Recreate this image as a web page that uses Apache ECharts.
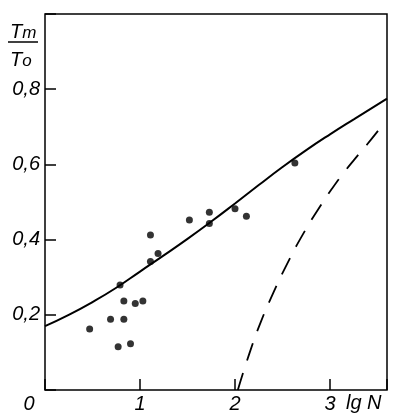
<!DOCTYPE html>
<html>
<head>
<meta charset="utf-8">
<script src="https://cdn.jsdelivr.net/npm/echarts@6/dist/echarts.min.js"></script>
<style>
  html, body { margin: 0; padding: 0; background: #fff; }
  #chart { width: 399px; height: 420px; }
</style>
</head>
<body>
<div id="chart"></div>
<script>
// measured points [lg N, Tm/To]
var points = [
  [0.47, 0.162], [0.69, 0.188], [0.83, 0.188], [0.77, 0.115], [0.90, 0.123],
  [0.83, 0.237], [0.95, 0.230], [1.03, 0.237], [0.79, 0.279], [1.11, 0.412],
  [1.19, 0.363], [1.11, 0.342], [1.52, 0.452], [1.73, 0.473], [1.73, 0.443],
  [2.00, 0.482], [2.12, 0.462], [2.63, 0.604]
];
// solid theory curve
var solidCurve = [
  [0, 0.17], [0.25, 0.2], [0.5, 0.234], [0.75, 0.272], [1.0, 0.315],
  [1.25, 0.358], [1.5, 0.402], [1.75, 0.448], [2.0, 0.496], [2.25, 0.545],
  [2.5, 0.593], [2.75, 0.638], [3.0, 0.68], [3.25, 0.72], [3.6, 0.775]
];
// dashed curve
var dashCurve = [
  [2.03, 0], [2.15, 0.096], [2.27, 0.18], [2.41, 0.262], [2.55, 0.336],
  [2.71, 0.412], [2.9, 0.49], [3.02, 0.535], [3.13, 0.573], [3.26, 0.614],
  [3.39, 0.653], [3.52, 0.694]
];
var xTicks = ['0', '1', '2', '3'];
var yTicks = ['0,2', '0,4', '0,6', '0,8'];

var chart = echarts.init(document.getElementById('chart'));
var font = 'Liberation Sans';

var option = {
  animation: false,
  grid: {
    left: 45, right: 12, top: 14, bottom: 30,
    show: true, borderColor: '#000', borderWidth: 1.5
  },
  xAxis: {
    type: 'value', min: 0, max: 3.6, interval: 1,
    splitLine: { show: false },
    axisLine: { show: false },
    axisTick: { inside: true, length: 11, lineStyle: { color: '#000', width: 1.5 } },
    axisLabel: {
      margin: 4,
      fontFamily: font, fontStyle: 'italic', fontSize: 20, color: '#000',
      formatter: function (v) {
        var s = xTicks[Math.round(v)] || '';
        return v === 0 ? '{z|' + s + '}' : s;
      },
      rich: {
        z: { fontFamily: font, fontStyle: 'italic', fontSize: 20, color: '#000', padding: [0, 32, 0, 0] }
      }
    }
  },
  yAxis: {
    type: 'value', min: 0, max: 1, interval: 0.2,
    splitLine: { show: false },
    axisLine: { show: false },
    axisTick: { inside: true, length: 11, lineStyle: { color: '#000', width: 1.5 } },
    axisLabel: {
      margin: 5,
      fontFamily: font, fontStyle: 'italic', fontSize: 20, color: '#000',
      formatter: function (v) {
        var i = Math.round(v / 0.2) - 1;
        return yTicks[i] || '';
      }
    }
  },
  graphic: [
    {
      type: 'text', left: 10, top: 22,
      style: {
        text: '{t|T}{s|m}',
        rich: {
          t: { fontFamily: font, fontStyle: 'italic', fontSize: 20, fill: '#000', verticalAlign: 'bottom' },
          s: { fontFamily: font, fontStyle: 'italic', fontSize: 17, fill: '#000', verticalAlign: 'bottom' }
        }
      }
    },
    {
      type: 'line', shape: { x1: 8, y1: 42, x2: 38, y2: 42 },
      style: { stroke: '#000', lineWidth: 1.5 }
    },
    {
      type: 'text', left: 10, top: 50,
      style: {
        text: '{t|T}{s|o}',
        rich: {
          t: { fontFamily: font, fontStyle: 'italic', fontSize: 20, fill: '#000', verticalAlign: 'bottom' },
          s: { fontFamily: font, fontStyle: 'italic', fontSize: 17, fill: '#000', verticalAlign: 'bottom' }
        }
      }
    },
    {
      type: 'text', left: 346, top: 393,
      style: { text: 'lg N', fontFamily: font, fontStyle: 'italic', fontSize: 20, fill: '#000' }
    }
  ],
  series: [
    {
      type: 'line', data: solidCurve, smooth: 0.5, showSymbol: false,
      lineStyle: { color: '#000', width: 2 }, silent: true
    },
    {
      type: 'line', data: dashCurve, smooth: 0.5, showSymbol: false,
      lineStyle: { color: '#000', width: 1.8, type: [18, 13] }, silent: true
    },
    {
      type: 'scatter', data: points, symbolSize: 7,
      itemStyle: { color: '#000' }, silent: true
    }
  ]
};
chart.setOption(option);
window.addEventListener('resize', function () { chart.resize(); });
</script>
</body>
</html>
